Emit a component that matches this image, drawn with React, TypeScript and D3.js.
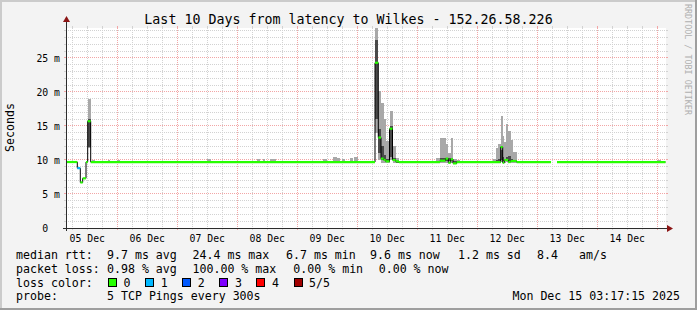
import React from 'react';
import * as d3 from 'd3';

const W = 697;
const H = 310;
const START = Date.UTC(2025, 11, 5, 3, 17, 15);
const END = Date.UTC(2025, 11, 15, 3, 17, 15);
const Y_MAX = 29.41;

const TITLE = 'Last 10 Days from latency to Wilkes - 152.26.58.226';

// median rtt runs: [startHour, endHour, median ms, loss level]
const medianSegments: [number, number, number, number][] = [
  [0, 4.72, 9.7, 0],
  [4.72, 5.92, 8.8, 1],
  [5.92, 6.88, 6.7, 0],
  [6.88, 8.2, 7.3, 0],
  [8.2, 8.88, 9.7, 0],
  [8.88, 10.08, 15.7, 0],
  [10.08, 123.8, 9.7, 0],
  [123.8, 125.12, 24.3, 0],
  [125.12, 126.2, 13.3, 0],
  [126.2, 127.28, 10.2, 0],
  [127.28, 128.08, 10.0, 0],
  [128.08, 129.6, 9.8, 0],
  [129.6, 130.8, 14.6, 0],
  [130.8, 132.08, 10.0, 0],
  [132.08, 133.4, 9.8, 0],
  [133.4, 149.8, 9.7, 0],
  [149.8, 152, 9.9, 0],
  [152, 153.12, 10.2, 0],
  [153.12, 154.08, 9.6, 0],
  [154.08, 155, 10.1, 0],
  [155, 156.48, 9.5, 0],
  [156.48, 174.08, 9.7, 0],
  [174.08, 174.88, 11.9, 0],
  [174.88, 175.52, 9.6, 0],
  [175.52, 177.12, 10.0, 0],
  [177.12, 178.08, 9.7, 0],
  [178.08, 180.48, 9.85, 0],
  [180.48, 194.2, 9.7, 0],
  [196.6, 240, 9.7, 0],
];

// smoke: [startHour, endHour, ping1, ping2, ping4, ping5] in ms
const smokeBins: [number, number, number, number, number, number][] = [
  [8.88, 10.08, 11.7, 11.9, 16.1, 19.0],
  [10.6, 11.8, 9.5, 9.6, 9.8, 10.0],
  [17.0, 17.8, 9.5, 9.6, 9.8, 9.95],
  [20.6, 21.8, 9.5, 9.6, 9.8, 9.95],
  [56.6, 58.2, 9.5, 9.6, 9.8, 10.1],
  [76.6, 77.8, 9.5, 9.6, 9.8, 10.2],
  [79.0, 79.8, 9.5, 9.6, 9.8, 10.1],
  [81.8, 84.2, 9.5, 9.6, 9.8, 10.2],
  [103.0, 104.6, 9.5, 9.6, 9.8, 10.2],
  [107.0, 108.6, 9.5, 9.6, 9.9, 10.4],
  [108.6, 109.8, 9.5, 9.6, 9.8, 10.3],
  [110.6, 111.8, 9.5, 9.6, 9.8, 10.1],
  [113.8, 115.0, 9.5, 9.6, 9.8, 10.3],
  [115.4, 117.0, 9.5, 9.6, 9.9, 10.5],
  [123.8, 125.12, 14.0, 16.0, 27.7, 29.5],
  [125.12, 126.2, 10.0, 11.0, 14.5, 20.1],
  [126.2, 127.28, 9.6, 10.0, 12.0, 18.4],
  [127.28, 128.08, 9.6, 9.9, 10.8, 16.0],
  [128.08, 129.6, 9.5, 9.7, 10.2, 12.8],
  [129.6, 130.8, 10.0, 10.5, 15.0, 17.2],
  [130.8, 132.08, 9.5, 9.8, 10.3, 12.0],
  [132.08, 133.4, 9.5, 9.6, 9.9, 10.3],
  [148.2, 149.8, 9.6, 9.7, 9.9, 10.3],
  [149.8, 152.0, 9.6, 9.8, 10.3, 13.2],
  [152.0, 153.12, 9.5, 9.8, 10.2, 12.4],
  [153.12, 154.08, 9.6, 9.9, 10.3, 11.0],
  [154.08, 155.0, 9.6, 9.9, 10.2, 13.3],
  [155.0, 156.48, 9.5, 9.6, 9.8, 10.2],
  [156.48, 157.8, 9.5, 9.6, 9.8, 10.0],
  [170.88, 172.2, 9.5, 9.6, 9.8, 10.2],
  [172.2, 173.12, 9.6, 9.8, 10.0, 11.7],
  [173.12, 174.08, 9.6, 9.8, 10.1, 12.4],
  [174.08, 174.88, 9.7, 10.0, 11.4, 16.5],
  [174.88, 175.52, 9.7, 9.9, 10.4, 13.6],
  [175.52, 176.2, 9.6, 9.8, 10.0, 12.6],
  [176.2, 177.12, 9.7, 9.9, 10.4, 15.3],
  [177.12, 178.08, 9.7, 9.9, 10.6, 14.3],
  [178.08, 178.88, 9.6, 9.8, 10.2, 12.9],
  [178.88, 180.48, 9.6, 9.7, 9.9, 11.2],
  [236.6, 238.2, 9.5, 9.6, 9.8, 10.0],
];

const lossLabels = ['0', '1', '2', '3', '4', '5/5'];
const lossColors = ['#26ff00', '#00b8ff', '#0059ff', '#7e00ff', '#ff0000', '#a10000'];

const legendRtt: [string, number][] = [
  ['median rtt:', 16],
  ['9.7 ms avg', 107],
  ['24.4 ms max', 192.5],
  ['6.7 ms min', 286],
  ['9.6 ms now', 370],
  ['1.2 ms sd', 458],
  ['8.4', 537],
  ['am/s', 579],
];
const legendLoss: [string, number][] = [
  ['packet loss:', 16],
  ['0.98 % avg', 107],
  ['100.00 % max', 192.5],
  ['0.00 % min', 293.3],
  ['0.00 % now', 378.7],
];
const probeText = '5 TCP Pings every 300s';
const dateText = 'Mon Dec 15 03:17:15 2025';

const MONO = "'DejaVu Sans Mono', monospace";

export default function App() {
  const x = d3.scaleUtc().domain([new Date(START), new Date(END)]).range([65.5, 665.5]);
  const y = d3.scaleLinear().domain([0, Y_MAX]).range([228, 28]);
  const tx = (h: number) => x(new Date(START + h * 3600e3));
  const X0 = 66, X1 = 666, Y0 = 228, Y1 = 28;
  const snap = (v: number) => Math.floor(v) + 0.5;

  const sixHours = d3.utcHour.every(6)!.range(new Date(START), new Date(END));
  const minorV = sixHours.filter((d) => d.getUTCHours() !== 0);
  const majorV = sixHours.filter((d) => d.getUTCHours() === 0);
  const days = d3.utcDay.range(d3.utcDay.floor(new Date(START)), new Date(END));
  const labelDays = days.map((d) => new Date(+d + 12 * 3600e3)).filter((d) => +d > START && +d < END);
  const fmt = d3.utcFormat('%d %b');

  const yVals = d3.range(1, Math.floor(Y_MAX) + 1);
  const minorH = yVals.filter((v) => v % 5 !== 0);
  const majorH = yVals.filter((v) => v % 5 === 0);
  const yLabels = [0, 5, 10, 15, 20, 25];

  type Pt = { t: number; v: number | null };
  const pts: Pt[] = [];
  medianSegments.forEach((s, i) => {
    if (i > 0 && medianSegments[i - 1][1] !== s[0]) pts.push({ t: s[0], v: null });
    pts.push({ t: s[0], v: s[2] });
    pts.push({ t: s[1], v: s[2] });
  });
  const line = d3
    .line<Pt>()
    .defined((p) => p.v !== null)
    .x((p) => tx(p.t))
    .y((p) => y(p.v as number));

  const gridGray = '#d2d2d2';
  const gridRed = '#f2a6a6';
  const dash = '1,1';

  return (
    <div style={{ position: 'absolute', left: 0, top: 0 }}>
      <svg width={W} height={H} style={{ display: 'block' }}>
        <defs>
          <clipPath id="plotclip">
            <rect x={X0} y={Y1} width={X1 - X0} height={Y0 - Y1} />
          </clipPath>
        </defs>
        <rect x={0} y={0} width={W} height={H} fill="#f3f3f3" />
        <rect x={0} y={0} width={W} height={2} fill="#cbcbcb" />
        <rect x={0} y={0} width={2} height={H} fill="#cbcbcb" />
        <rect x={W - 2} y={0} width={2} height={H} fill="#9e9e9e" />
        <rect x={0} y={H - 2} width={W} height={2} fill="#9e9e9e" />
        <rect x={X0} y={Y1} width={X1 - X0} height={Y0 - Y1} fill="#ffffff" />

        {/* grid */}
        <g strokeWidth={1} shapeRendering="crispEdges">
          {minorV.map((d, i) => (
            <g key={'mv' + i}>
              <line x1={snap(x(d))} x2={snap(x(d))} y1={Y1} y2={Y0} stroke={gridGray} strokeDasharray={dash} />
              <line x1={snap(x(d))} x2={snap(x(d))} y1={Y1 - 2} y2={Y1} stroke={gridGray} />
              <line x1={snap(x(d))} x2={snap(x(d))} y1={Y0} y2={Y0 + 2} stroke={gridGray} />
            </g>
          ))}
          {minorH.map((v) => (
            <g key={'mh' + v}>
              <line x1={X0} x2={X1} y1={snap(y(v))} y2={snap(y(v))} stroke={gridGray} strokeDasharray={dash} />
              <line x1={X0 - 2} x2={X0} y1={snap(y(v))} y2={snap(y(v))} stroke={gridGray} />
              <line x1={X1} x2={X1 + 2} y1={snap(y(v))} y2={snap(y(v))} stroke={gridGray} />
            </g>
          ))}
          {majorV.map((d, i) => (
            <g key={'Mv' + i}>
              <line x1={snap(x(d))} x2={snap(x(d))} y1={Y1} y2={Y0} stroke={gridRed} strokeDasharray={dash} />
              <line x1={snap(x(d))} x2={snap(x(d))} y1={Y1 - 2} y2={Y1} stroke={gridRed} />
              <line x1={snap(x(d))} x2={snap(x(d))} y1={Y0} y2={Y0 + 2} stroke={gridRed} />
            </g>
          ))}
          {majorH.map((v) => (
            <g key={'Mh' + v}>
              <line x1={X0} x2={X1} y1={snap(y(v))} y2={snap(y(v))} stroke={gridRed} strokeDasharray={dash} />
              <line x1={X0 - 2} x2={X0} y1={snap(y(v))} y2={snap(y(v))} stroke={gridRed} />
              <line x1={X1} x2={X1 + 2} y1={snap(y(v))} y2={snap(y(v))} stroke={gridRed} />
            </g>
          ))}
        </g>

        {/* smoke */}
        <g clipPath="url(#plotclip)" shapeRendering="crispEdges">
          {smokeBins.map((b, i) => {
            const xa = tx(b[0]);
            const w = tx(b[1]) - xa;
            return (
              <g key={'s' + i}>
                <rect x={xa} width={w} y={y(b[5])} height={y(b[4]) - y(b[5])} fill="#a8a8a8" />
                <rect x={xa} width={w} y={y(b[4])} height={y(b[3]) - y(b[4])} fill="#4a4a4a" />
                <rect x={xa} width={w} y={y(b[3])} height={y(b[2]) - y(b[3])} fill="#a8a8a8" />
              </g>
            );
          })}
        </g>

        {/* median */}
        <g clipPath="url(#plotclip)">
          <path d={line(pts) || ''} fill="none" stroke="#000" strokeWidth={1} />
          {medianSegments.map((s, i) => (
            <line
              key={'m' + i}
              x1={tx(s[0])}
              x2={tx(s[1])}
              y1={y(s[2])}
              y2={y(s[2])}
              stroke={lossColors[s[3]]}
              strokeWidth={2.2}
            />
          ))}
        </g>

        {/* axes */}
        <g shapeRendering="crispEdges">
          <line x1={63} x2={667} y1={Y0 + 0.5} y2={Y0 + 0.5} stroke="#2c2c2c" />
          <line x1={X0 + 0.5} x2={X0 + 0.5} y1={231} y2={22} stroke="#2c2c2c" />
        </g>
        <path d="M667,225 L667,232 L673,228.5 Z" fill="#8b1515" />
        <path d="M63,22 L70,22 L66.5,16 Z" fill="#8b1515" />

        {/* axis labels */}
        <g fontFamily={MONO} fontSize={9.8} fill="#000">
          {yLabels.map((v) => (
            <text key={'yl' + v} x={v === 0 ? 48.2 : 60} y={y(v) + 3.6} textAnchor="end">
              {v === 0 ? '0' : `${v} m`}
            </text>
          ))}
          {labelDays.map((d, i) => (
            <text key={'xl' + i} x={x(d)} y={241.5} textAnchor="middle">
              {fmt(d)}
            </text>
          ))}
        </g>

        {/* title */}
        <text x={348.5} y={23.5} textAnchor="middle" fontFamily={MONO} fontSize={13.3} fill="#000">
          {TITLE}
        </text>
        <text
          transform="translate(14,127.5) rotate(-90)"
          textAnchor="middle"
          fontFamily={MONO}
          fontSize={11.6}
          fill="#000"
        >
          Seconds
        </text>
        <text
          transform="translate(685,4) rotate(90)"
          textAnchor="start"
          fontFamily={MONO}
          fontSize={8.4}
          fill="#b0b0b0"
        >
          RRDTOOL / TOBI OETIKER
        </text>

        {/* legend */}
        <g fontFamily={MONO} fontSize={11.6} fill="#000">
          {legendRtt.map(([t, px], i) => (
            <text key={'r' + i} x={px} y={258.5}>
              {t}
            </text>
          ))}
          {legendLoss.map(([t, px], i) => (
            <text key={'l' + i} x={px} y={272.5}>
              {t}
            </text>
          ))}
          <text x={16} y={286.5}>loss color:</text>
          {lossLabels.map((lab, i) => {
            const bx = 108 + i * 37.1;
            return (
              <g key={'lc' + i}>
                <rect x={bx + 0.5} y={278.5} width={8} height={8} fill={lossColors[i]} stroke="#000" strokeWidth={1} shapeRendering="crispEdges" />
                <text x={bx + 15.6} y={286.5}>
                  {lab}
                </text>
              </g>
            );
          })}
          <text x={16} y={300}>probe:</text>
          <text x={107} y={300}>{probeText}</text>
          <text x={680} y={300} textAnchor="end">
            {dateText}
          </text>
        </g>
      </svg>
    </div>
  );
}
